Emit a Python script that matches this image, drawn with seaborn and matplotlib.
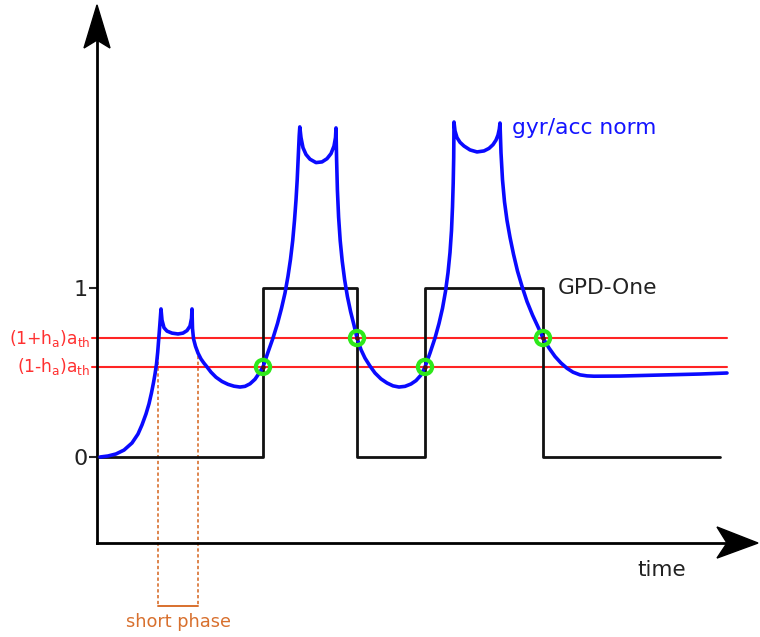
import matplotlib
matplotlib.use("Agg")
import matplotlib.pyplot as plt
from matplotlib.patches import Polygon
import seaborn as sns
import pandas as pd

# ---------------- data (time in arbitrary units, value: 0 / 1 levels) ----------------
norm_t = [3, 11, 19, 27, 35, 41, 45, 49, 52, 54.5, 56.5, 58, 59.5, 60.7, 61.8, 62.8, 63.6, 64,
          65, 67, 70, 75, 81, 86, 90, 93, 94.5, 95,
          95.5, 96.5, 98.5, 101, 104, 107, 110, 114, 119, 125, 131, 137, 143, 148, 153,
          158, 162, 166,
          171, 176, 180.5, 184.5, 188, 191, 193.5, 195.7, 197.5, 199, 200.2, 201.2, 202.2,
          202.8,
          204, 206, 209, 213, 219, 225, 230, 234, 237, 238.5, 239,
          239.6, 240.4, 241.6, 243.2, 245.2, 247.6, 250.4, 253.6, 257, 260, 264, 268, 273,
          278, 284, 290, 296, 302, 308, 314, 319, 324, 328,
          333, 338, 342, 345.5, 348.5, 351, 353, 354.5, 355.5, 356.2, 356.7, 357,
          358, 360, 363, 367, 373, 380, 387, 392, 396, 399, 401, 402.3, 403,
          404, 405.5, 407.5, 410, 413, 416.5, 420.5, 425, 430, 435.5, 441, 446, 452, 458,
          464, 470, 476, 483, 490, 497,
          523, 563, 603, 630]
norm_v = [0.000, 0.006, 0.018, 0.041, 0.083, 0.136, 0.190, 0.255, 0.315, 0.380, 0.440,
          0.490, 0.550, 0.620, 0.700, 0.780, 0.850, 0.876,
          0.810, 0.765, 0.745, 0.733, 0.728, 0.733, 0.748, 0.775, 0.820, 0.876,
          0.760, 0.700, 0.655, 0.615, 0.580, 0.555, 0.533, 0.502, 0.472, 0.447, 0.430,
          0.419, 0.414, 0.418, 0.433, 0.460, 0.495, 0.533,
          0.620, 0.704, 0.790, 0.880, 0.970, 1.070, 1.170, 1.280, 1.400, 1.520, 1.640,
          1.770, 1.900, 1.953,
          1.890, 1.830, 1.790, 1.762, 1.742, 1.746, 1.765, 1.795, 1.840, 1.890, 1.947,
          1.760, 1.580, 1.420, 1.280, 1.160, 1.050, 0.950, 0.860, 0.780, 0.704, 0.635,
          0.585, 0.538, 0.497, 0.462, 0.438, 0.421, 0.414, 0.418, 0.432, 0.452, 0.485,
          0.533,
          0.615, 0.704, 0.790, 0.880, 0.980, 1.090, 1.210, 1.340, 1.480, 1.620, 1.770,
          1.982,
          1.930, 1.890, 1.862, 1.840, 1.817, 1.805, 1.811, 1.826, 1.848, 1.875, 1.905,
          1.940, 1.976,
          1.800, 1.640, 1.510, 1.400, 1.300, 1.200, 1.100, 1.010, 0.920, 0.840, 0.770,
          0.704, 0.645, 0.595, 0.556, 0.525, 0.502, 0.486, 0.480, 0.478,
          0.479, 0.485, 0.491, 0.497]

gpd_t = [0, 166, 260, 328, 446, 623]
gpd_v = [0, 1, 0, 1, 0, 0]

th_high = 0.704          # (1+h_a) a_th
th_low = 0.533           # (1-h_a) a_th
th_t = [-5, 630]

cross_t = [166, 260, 328, 446]
cross_v = [th_low, th_high, th_low, th_high]

short_t = [61, 101]
short_top = 0.633
short_bottom = -0.882

y_ticks = [0, 1]
y_ticklabels = ["0", "1"]

axis_y0 = -0.509
# --------------------------------------------------------------------------------------

sns.set_style("white")
plt.rcParams["font.family"] = ["DejaVu Sans"]

fig = plt.figure(figsize=(7.6, 6.37), dpi=100)
ax = fig.add_axes([0, 0, 1, 1])
ax.set_xlim(-97, 663)
ax.set_ylim(-1.065, 2.704)

# axes as spines through the origin
for s in ["top", "right"]:
    ax.spines[s].set_visible(False)
ax.spines["left"].set_position(("data", 0))
ax.spines["bottom"].set_position(("data", axis_y0))
ax.spines["left"].set_bounds(axis_y0, 2.47)
ax.spines["bottom"].set_bounds(0, 630)
for s in ["left", "bottom"]:
    ax.spines[s].set_linewidth(2)
    ax.spines[s].set_color("black")
ax.set_xticks([])
ax.set_yticks(y_ticks)
ax.set_yticklabels(y_ticklabels, fontsize=16, color="#222222")
ax.tick_params(axis="y", direction="out", length=5.5, width=1.5, pad=1.5, left=True)

# arrow heads
ax.add_patch(Polygon([(0, 2.675), (-13, 2.420), (0, 2.467), (13, 2.420)],
                     closed=True, color="black", zorder=5))
ax.add_patch(Polygon([(661, axis_y0), (620, -0.414), (630, axis_y0), (620, -0.598)],
                     closed=True, color="black", zorder=5))

# threshold lines
for th in (th_high, th_low):
    ax.plot(th_t, [th, th], color="#ff2424", lw=1.5, zorder=2)
ax.text(-7, th_high, r"(1+h$_\mathregular{a}$)a$_\mathregular{th}$", color="#ff3030",
        fontsize=12.3, ha="right", va="center")
ax.text(-7, th_low, r"(1-h$_\mathregular{a}$)a$_\mathregular{th}$", color="#ff3030",
        fontsize=12.3, ha="right", va="center")

# GPD-One step signal
gpd = pd.DataFrame({"t": gpd_t, "v": gpd_v})
sns.lineplot(data=gpd, x="t", y="v", ax=ax, color="#111111", lw=2,
             drawstyle="steps-post", estimator=None, sort=False, zorder=3)

# gyr/acc norm
norm = pd.DataFrame({"t": norm_t, "v": norm_v})
sns.lineplot(data=norm, x="t", y="v", ax=ax, color="#0a0aff", lw=2.6,
             estimator=None, sort=False, zorder=4,
             solid_joinstyle="round", solid_capstyle="round")

# crossing markers
ax.scatter(cross_t, cross_v, s=105, facecolors="none", edgecolors="#2ee81a",
           linewidths=3, zorder=6)
ax.scatter(cross_t, cross_v, s=5, color="#551111", zorder=7)

# short phase bracket
c_sp = "#d8702e"
for tt in short_t:
    ax.plot([tt, tt], [short_top, short_bottom], color=c_sp, lw=1.2,
            ls=(0, (2, 1.5)), zorder=1)
ax.plot(short_t, [short_bottom, short_bottom], color=c_sp, lw=1.4, zorder=1)
ax.text(sum(short_t) / 2, -0.975, "short phase", color=c_sp, fontsize=12.8,
        ha="center", va="center")

# labels
ax.text(415, 1.947, "gyr/acc norm", color="#1414ff", fontsize=15.7, ha="left", va="center")
ax.text(461, 1.0, "GPD-One", color="#222222", fontsize=15.7, ha="left", va="center")
ax.text(565, -0.669, "time", color="#222222", fontsize=15.5, ha="center", va="center")

ax.set_xlabel("")
ax.set_ylabel("")
fig.savefig("out.png", dpi=100)
